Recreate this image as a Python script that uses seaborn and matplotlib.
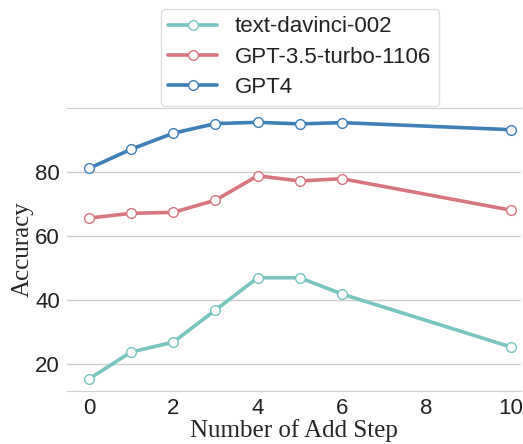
import pandas as pd
import matplotlib.pyplot as plt
import seaborn as sns

# data
steps = [0, 1, 2, 3, 4, 5, 6, 10]
davinci = [15.4, 23.8, 26.9, 36.9, 47.0, 47.0, 41.9, 25.4]
gpt35 = [65.6, 67.1, 67.4, 71.2, 78.8, 77.2, 77.9, 68.1]
gpt4 = [81.1, 87.1, 92.1, 95.1, 95.5, 95.0, 95.4, 93.2]

names = ['text-davinci-002', 'GPT-3.5-turbo-1106', 'GPT4']
colors = ['#78c6bf', '#d87680', '#3f7fb8']

sns.set_style('whitegrid')

fig = plt.figure(figsize=(5.23, 4.44), dpi=100)
ax = fig.add_axes([0.128, 0.119, 0.868, 0.638])

for name, vals, c in zip(names, [davinci, gpt35, gpt4], colors):
    df = pd.DataFrame({'step': steps, 'acc': vals})
    sns.lineplot(data=df, x='step', y='acc', ax=ax, color=c, label=name,
                 linewidth=2.6, marker='o', markersize=7,
                 markerfacecolor='white', markeredgecolor=c, markeredgewidth=1.0)

ax.set_xlim(-0.52, 10.24)
ax.set_ylim(11.6, 100)
ax.set_yticks([20, 40, 60, 80])
ax.set_xticks([0, 2, 4, 6, 8, 10])
ax.grid(axis='x', visible=False)
ax.grid(axis='y', color='#d0d0d0', linewidth=1)
for s in ['left', 'right']:
    ax.spines[s].set_visible(False)
for s in ['top', 'bottom']:
    ax.spines[s].set_color('#d0d0d0')

ax.tick_params(axis='both', labelsize=16, length=0, pad=5)
for lab in ax.get_xticklabels() + ax.get_yticklabels():
    lab.set_family('Liberation Sans')
    lab.set_color('#222222')

ax.set_xlabel('Number of Add Step', family='Liberation Serif', fontsize=18, labelpad=0)
ax.set_ylabel('Accuracy', family='Liberation Serif', fontsize=18, labelpad=1)

leg = ax.legend(loc='upper center', bbox_to_anchor=(0.513, 1.39), fontsize=16,
                frameon=True, fancybox=True, handlelength=2.2, labelspacing=0.42,
                borderpad=0.35, handletextpad=0.8)
leg.get_frame().set_edgecolor('#d8d8d8')
for t in leg.get_texts():
    t.set_family('Liberation Sans')
    t.set_color('#222222')

plt.savefig('out.png', dpi=100)
